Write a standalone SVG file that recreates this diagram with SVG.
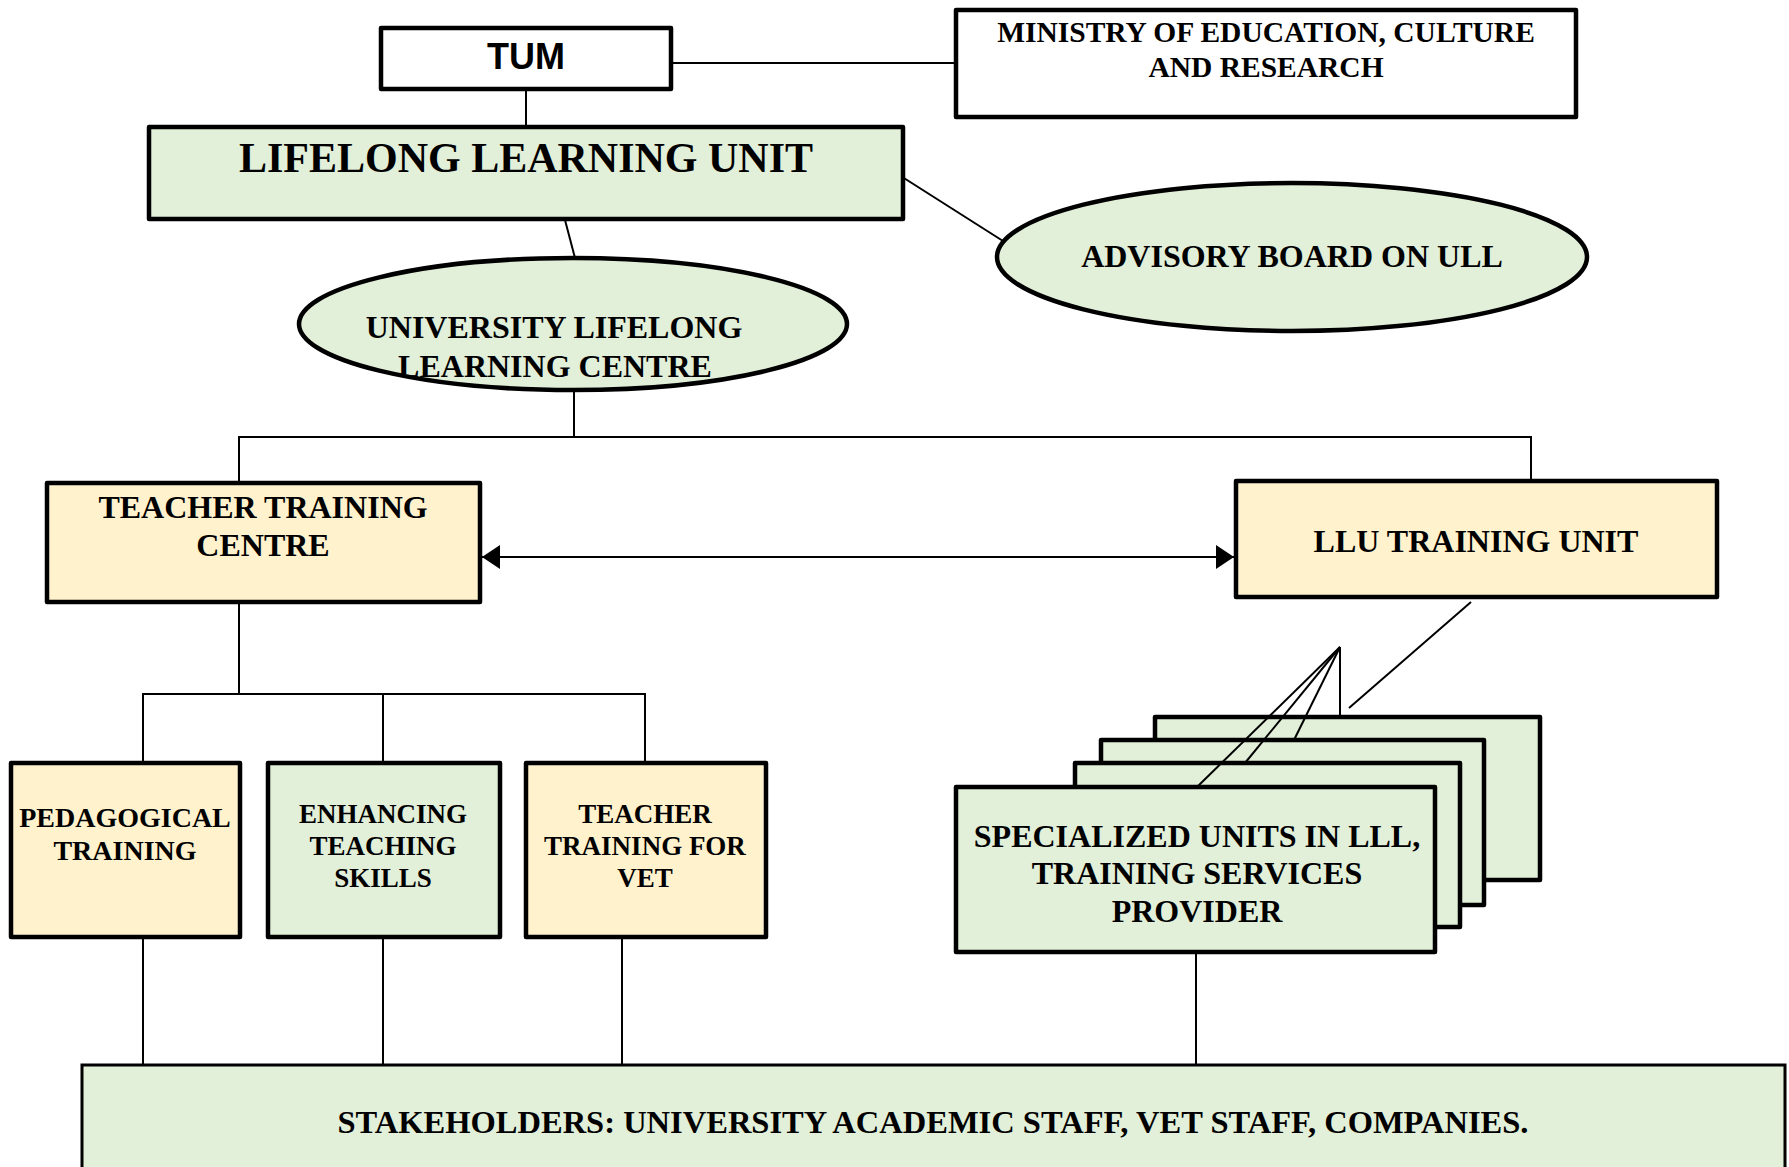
<svg xmlns="http://www.w3.org/2000/svg" width="1789" height="1167" viewBox="0 0 1789 1167">
<defs>
<style>
.box{stroke:#000;stroke-width:4.5;stroke-linejoin:round}
.g{fill:#e2efd9}
.y{fill:#fff2cc}
.w{fill:#fff}
.c{stroke:#000;stroke-width:2;fill:none}
.t{font-family:"Liberation Serif","Times New Roman",serif;font-weight:bold;fill:#000;text-anchor:middle}
.a{font-family:"Liberation Sans",Arial,sans-serif;font-weight:bold;fill:#000;text-anchor:middle}
</style>
<marker id="ah" viewBox="0 0 18 24" refX="18" refY="12" markerWidth="18" markerHeight="24" markerUnits="userSpaceOnUse" orient="auto-start-reverse">
<path d="M0,0 L18,12 L0,24 z" fill="#000"/>
</marker>
</defs>
<rect width="1789" height="1167" fill="#fff"/>

<g id="connectors">
<line class="c" x1="671" y1="63" x2="964" y2="63"/>
<line class="c" x1="526" y1="89" x2="526" y2="127"/>
<line class="c" x1="565" y1="220" x2="575" y2="258"/>
<line class="c" x1="896" y1="173" x2="1003" y2="241"/>
<line class="c" x1="574" y1="390" x2="574" y2="437"/>
<polyline class="c" points="239,483 239,437 1531,437 1531,481"/>
<line class="c" x1="482" y1="557" x2="1234" y2="557" marker-start="url(#ah)" marker-end="url(#ah)"/>
<line class="c" x1="239" y1="602" x2="239" y2="694"/>
<polyline class="c" points="143,763 143,694 645,694 645,763"/>
<line class="c" x1="383" y1="694" x2="383" y2="763"/>
<line class="c" x1="1471" y1="602" x2="1349" y2="708"/>
<line class="c" x1="143" y1="937" x2="143" y2="1065"/>
<line class="c" x1="383" y1="937" x2="383" y2="1065"/>
<line class="c" x1="622" y1="937" x2="622" y2="1065"/>
<line class="c" x1="1196" y1="952" x2="1196" y2="1065"/>
</g>

<g id="tum">
<rect class="box w" x="381" y="28" width="290" height="61"/>
<text class="a" x="526" y="69" font-size="36">TUM</text>
</g>

<g id="ministry">
<rect class="box w" x="956" y="10" width="620" height="107"/>
<text class="t" x="1266" y="42" font-size="29.5">MINISTRY OF EDUCATION, CULTURE</text>
<text class="t" x="1266" y="77" font-size="29.5">AND RESEARCH</text>
</g>

<g id="llu">
<rect class="box g" x="149" y="127" width="754" height="92"/>
<text class="t" x="526" y="172" font-size="42">LIFELONG LEARNING UNIT</text>
</g>

<g id="advisory">
<ellipse class="box g" cx="1292" cy="257" rx="295" ry="74"/>
<text class="t" x="1292" y="267" font-size="32">ADVISORY BOARD ON ULL</text>
</g>

<g id="ullc">
<ellipse class="box g" cx="573" cy="324" rx="274" ry="66"/>
<text class="t" x="554" y="338" font-size="32">UNIVERSITY LIFELONG</text>
<text class="t" x="555" y="377" font-size="32">LEARNING CENTRE</text>
</g>

<g id="ttc">
<rect class="box y" x="47" y="483" width="433" height="119"/>
<text class="t" x="263" y="518" font-size="32">TEACHER TRAINING</text>
<text class="t" x="263" y="556" font-size="32">CENTRE</text>
</g>

<g id="llutu">
<rect class="box y" x="1236" y="481" width="481" height="116"/>
<text class="t" x="1476" y="552" font-size="32">LLU TRAINING UNIT</text>
</g>

<g id="pedagogical">
<rect class="box y" x="11" y="763" width="229" height="174"/>
<text class="t" x="125" y="827" font-size="28">PEDAGOGICAL</text>
<text class="t" x="125" y="860" font-size="28">TRAINING</text>
</g>

<g id="enhancing">
<rect class="box g" x="268" y="763" width="232" height="174"/>
<text class="t" x="383" y="823" font-size="27">ENHANCING</text>
<text class="t" x="383" y="855" font-size="27">TEACHING</text>
<text class="t" x="383" y="887" font-size="27">SKILLS</text>
</g>

<g id="ttvet">
<rect class="box y" x="526" y="763" width="240" height="174"/>
<text class="t" x="645" y="823" font-size="27">TEACHER</text>
<text class="t" x="645" y="855" font-size="27">TRAINING FOR</text>
<text class="t" x="645" y="887" font-size="27">VET</text>
</g>

<g id="specialized">
<rect class="box g" x="1155" y="717" width="385" height="163"/>
<line class="c" x1="1340" y1="647" x2="1340" y2="717"/>
<rect class="box g" x="1101" y="740" width="383" height="165"/>
<line class="c" x1="1340" y1="647" x2="1294" y2="740"/>
<rect class="box g" x="1075" y="763" width="385" height="164"/>
<line class="c" x1="1340" y1="647" x2="1245" y2="763"/>
<rect class="box g" x="956" y="787" width="479" height="165"/>
<line class="c" x1="1340" y1="647" x2="1197" y2="787"/>
<text class="t" x="1197" y="847" font-size="32">SPECIALIZED UNITS IN LLL,</text>
<text class="t" x="1197" y="884" font-size="32">TRAINING SERVICES</text>
<text class="t" x="1197" y="922" font-size="32">PROVIDER</text>
</g>

<g id="stakeholders">
<rect x="82" y="1065" width="1703" height="130" fill="#e2efd9" stroke="#000" stroke-width="3"/>
<text class="t" x="933" y="1133" font-size="32.5">STAKEHOLDERS: UNIVERSITY ACADEMIC STAFF, VET STAFF, COMPANIES.</text>
</g>
</svg>
